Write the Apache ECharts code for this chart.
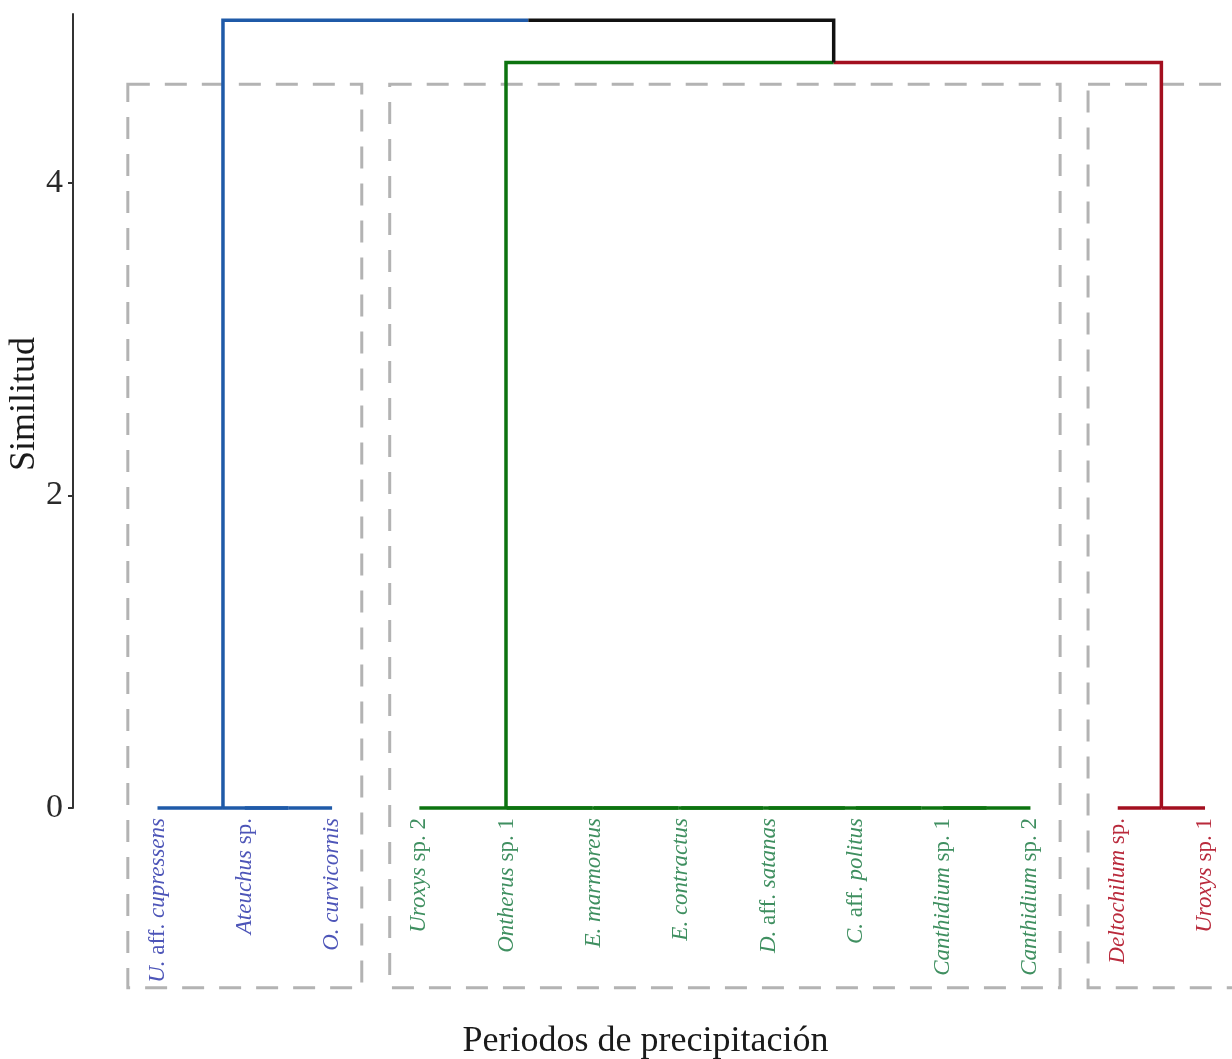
<!DOCTYPE html>
<html>
<head>
<meta charset="utf-8">
<script src="https://cdn.jsdelivr.net/npm/echarts@6/dist/echarts.min.js"></script>
<style>
  html, body { margin: 0; padding: 0; background: #ffffff; }
  #chart { width: 1232px; height: 1059px; }
</style>
</head>
<body>
<div id="chart"></div>
<script>
// Leaves of the dendrogram, left to right
const leafNames = [
  'U. aff. cupressens', 'Ateuchus sp.', 'O. curvicornis',
  'Uroxys sp. 2', 'Ontherus sp. 1', 'E. marmoreus', 'E. contractus',
  'D. aff. satanas', 'C. aff. politus', 'Canthidium sp. 1', 'Canthidium sp. 2',
  'Deltochilum sp.', 'Uroxys sp. 1'
];
// Cluster (k = 3) of each leaf
const leafCluster = [0, 0, 0, 1, 1, 1, 1, 1, 1, 1, 1, 2, 2];

// hclust-style merge table: negative = leaf number, positive = earlier merge step
const mergeLeft   = [-2, -1, -10, -9, -8, -7, -6, -5, -4, -12, 9, 2];
const mergeRight  = [-3,  1, -11,  3,  4,  5,  6,  7,  8, -13, 10, 11];
const mergeHeight = [ 0,  0,   0,  0,  0,  0,  0,  0,  0,   0, 4.77, 5.04];

const yTicks = [0, 2, 4];

const clusterLineColors = ['#1f5aa8', '#0c730f', '#a30f1f'];
const clusterLabelColors = ['#4d55b8', '#3f8f60', '#b92a3c'];
const rootColor = '#111111';

// ---- derive node positions and colours from the merge table ----
function childInfo(ref, nodes) {
  if (ref < 0) {
    const i = -ref;
    return { x: i, h: 0, leaves: [i] };
  }
  return nodes[ref - 1];
}
const nodes = [];
for (let s = 0; s < mergeHeight.length; s++) {
  const L = childInfo(mergeLeft[s], nodes);
  const R = childInfo(mergeRight[s], nodes);
  nodes.push({ x: (L.x + R.x) / 2, h: mergeHeight[s], leaves: L.leaves.concat(R.leaves) });
}
function colorOf(info) {
  const c = leafCluster[info.leaves[0] - 1];
  return info.leaves.every(l => leafCluster[l - 1] === c) ? clusterLineColors[c] : rootColor;
}
// each merge gives two elbows: child vertical up to the merge height, then across to the merge point
const segData = [];
for (let s = 0; s < nodes.length; s++) {
  const n = nodes[s];
  [mergeLeft[s], mergeRight[s]].forEach(ref => {
    const c = childInfo(ref, nodes);
    segData.push({ value: [c.x, c.h, n.x, n.h], color: colorOf(c) });
  });
}

// cluster boxes span their leaves
const boxPad = 0.34, boxTop = 4.63, boxBottom = -1.15;
const boxData = [0, 1, 2].map(c => {
  const idx = leafCluster.map((v, i) => v === c ? i + 1 : null).filter(v => v !== null);
  return [Math.min(...idx) - boxPad, Math.max(...idx) + boxPad];
});

// leaf labels: genus/species epithets italic, "aff.", "sp." and numbers upright
function richName(name) {
  return name.split(' ').map(t =>
    (t === 'aff.' || t === 'sp.' || /^\d+$/.test(t)) ? '{n|' + t + '}' : '{i|' + t + '}'
  ).join(' ');
}
const labelData = leafNames.map((n, i) => ({ value: [i + 1, 0], name: n, cluster: leafCluster[i] }));

const serif = '"Liberation Serif", "Times New Roman", serif';

const chart = echarts.init(document.getElementById('chart'), null, { renderer: 'canvas' });
chart.setOption({
  backgroundColor: '#ffffff',
  animation: false,
  grid: { left: 73, right: 0, top: 14, bottom: 251, containLabel: false, outerBoundsMode: 'none' },
  // vertical axis title
  graphic: [{
    type: 'text', x: 25, y: 404, rotation: Math.PI / 2,
    style: { text: 'Similitud', fontFamily: serif, fontSize: 36, fill: '#1a1a1a', align: 'center', verticalAlign: 'middle' }
  }],
  xAxis: {
    type: 'value', min: 0.032, max: 13.309,
    axisLine: { show: false }, axisTick: { show: false }, axisLabel: { show: false },
    splitLine: { show: false },
    name: 'Periodos de precipitación', nameLocation: 'middle', nameGap: 216,
    nameTextStyle: { fontFamily: serif, fontSize: 36, color: '#1a1a1a', padding: [0, 14, 0, 0] }
  },
  yAxis: {
    type: 'value', min: 0, max: 5.08,
    axisLine: { show: true, lineStyle: { color: '#333333', width: 2 } },
    axisTick: { show: true, customValues: yTicks, length: 5, lineStyle: { color: '#333333', width: 2 } },
    axisLabel: { customValues: yTicks, fontFamily: serif, fontSize: 34, color: '#2a2a2a', margin: 10 },
    splitLine: { show: false }
  },
  series: [
    {
      type: 'custom', name: 'boxes', clip: false, z: 1,
      data: boxData,
      renderItem: (params, api) => {
        const p1 = api.coord([api.value(0), boxTop]);
        const p2 = api.coord([api.value(1), boxBottom]);
        return {
          type: 'rect',
          shape: { x: p1[0], y: p1[1], width: p2[0] - p1[0], height: p2[1] - p1[1] },
          style: { fill: 'none', stroke: '#b3b3b3', lineWidth: 3, lineDash: [22, 15] }
        };
      }
    },
    {
      type: 'custom', name: 'branches', clip: false, z: 3,
      data: segData,
      renderItem: (params, api) => {
        const a = api.coord([api.value(0), api.value(1)]);
        const b = api.coord([api.value(0), api.value(3)]);
        const c = api.coord([api.value(2), api.value(3)]);
        return {
          type: 'polyline',
          shape: { points: [a, b, c] },
          style: { fill: 'none', stroke: segData[params.dataIndex].color, lineWidth: 3.5, lineJoin: 'miter', lineCap: 'butt' }
        };
      }
    },
    {
      type: 'custom', name: 'leaves', clip: false, z: 4,
      data: labelData,
      renderItem: (params, api) => {
        const d = labelData[params.dataIndex];
        const p = api.coord([api.value(0), api.value(1)]);
        const col = clusterLabelColors[d.cluster];
        return {
          type: 'text',
          x: p[0], y: p[1] + 10,
          rotation: Math.PI / 2,
          style: {
            text: richName(d.name),
            align: 'right', verticalAlign: 'middle',
            fontFamily: serif, fontSize: 23, fill: col,
            rich: {
              i: { fontStyle: 'italic', fontFamily: serif, fontSize: 23, fill: col, color: col },
              n: { fontStyle: 'normal', fontFamily: serif, fontSize: 23, fill: col, color: col }
            }
          }
        };
      }
    }
  ]
});
</script>
</body>
</html>
